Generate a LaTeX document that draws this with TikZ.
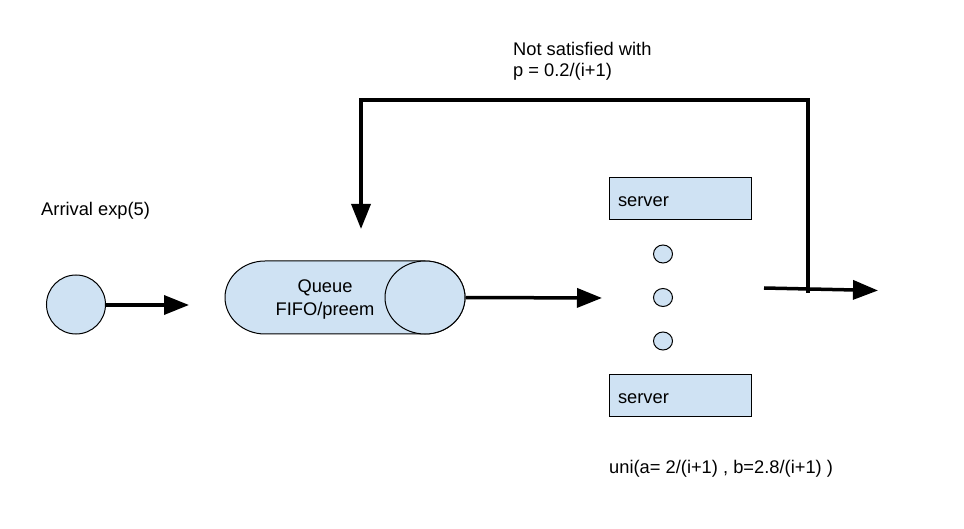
\documentclass[tikz,border=0pt]{standalone}
\usepackage{fontspec}
\setmainfont{Liberation Sans}
\usetikzlibrary{arrows.meta,shapes.geometric}
\definecolor{qblue}{HTML}{CFE2F3}
\tikzset{
  thin border/.style={draw=black, line width=1pt, fill=qblue},
  flow/.style={line width=3.5pt, -{Triangle[length=25pt,width=19pt]}},
  lbl/.style={inner sep=0pt, font=\fontsize{18.3}{21}\selectfont},
  serverbox/.style={thin border, minimum width=142pt, minimum height=42pt,
    inner xsep=9pt, inner ysep=0pt, text width=124pt, align=left,
    text height=16pt, text depth=0pt, font=\fontsize{18.3}{21}\selectfont},
  dot/.style={thin border, ellipse, inner sep=0pt, minimum width=19pt, minimum height=18pt},
}
\begin{document}
\begin{tikzpicture}[x=1pt,y=-1pt]
\useasboundingbox (0,0) rectangle (964,529);
% arrival
\node[thin border, circle, inner sep=0pt, minimum size=59pt] (arr) at (76,304.5) {};
\node[lbl, anchor=base west] (arrlbl) at (41,216) {Arrival exp(5)};
\coordinate (arrtip) at (189,305);
\draw[flow] (arr.east |- arrtip) -- (arrtip);
% queue
\path[thin border] (265,261) -- (425,261) arc (-90:90:40 and 36.5) -- (265,334) arc (90:270:40 and 36.5) -- cycle;
\node[thin border, ellipse, inner sep=0pt, minimum width=80pt, minimum height=73pt] (qend) at (425,297.5) {};
\node[lbl, align=center, font=\fontsize{18.3}{23}\selectfont] (queue) at (325,300) {Queue\\FIFO/preem};
\coordinate (qtip) at (602,298);
\draw[flow] (qend.east) -- (qtip);
% servers
\node[serverbox] (s1) at (680,199) {server};
\node[serverbox] (s2) at (680,395) {server};
\node[dot] (d1) at (663,254) {};
\node[dot] (d2) at (663,297.5) {};
\node[dot] (d3) at (663,341) {};
\node[lbl, anchor=base west] (uni) at (609,473) {uni(a= 2/(i+1) , b=2.8/(i+1) )};
% output
\coordinate (outstart) at (764,288);
\coordinate (outtip) at (878,290.5);
\draw[flow] (outstart) -- (outtip);
% feedback
\coordinate (fbstart) at (808,293);
\coordinate (fbcorner) at (361,100);
\coordinate (fbtip) at (361,229);
\draw[flow] (fbstart) |- (fbcorner) -- (fbtip);
\node[lbl, align=left, anchor=north west] (fblbl) at (513,42) {Not satisfied with\\p = 0.2/(i+1)};
\end{tikzpicture}
\end{document}
